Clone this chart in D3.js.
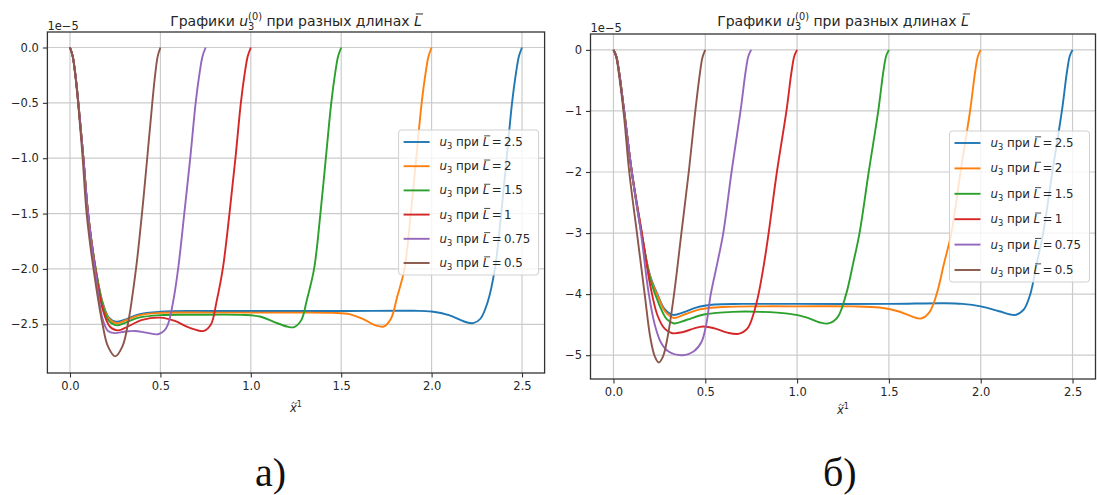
<!DOCTYPE html>
<html><head><meta charset="utf-8">
<script src="https://cdn.jsdelivr.net/npm/d3@7"></script>
<style>body{margin:0;background:#fff}svg{display:block}text{white-space:pre}</style>
</head><body><svg id="c" width="1097" height="495"></svg>
<script>
// ---------- data ----------
const xTicks=[0,0.5,1,1.5,2,2.5];
const xTickLabels=["0.0","0.5","1.0","1.5","2.0","2.5"];
const yTicksA=[0,-0.5,-1,-1.5,-2,-2.5];
const yTickLabelsA=["0.0","−0.5","−1.0","−1.5","−2.0","−2.5"];
const yTicksB=[0,-1,-2,-3,-4,-5];
const yTickLabelsB=["0","−1","−2","−3","−4","−5"];
const lengthLabels=["2.5","2","1.5","1","0.75","0.5"];
const colors=["#1f77b4","#ff7f0e","#2ca02c","#d62728","#9467bd","#8c564b"];

// chart а) values in units of 1e-5
const a25=[[0,0],[0.015,-0.08],[0.03,-0.25],[0.046,-0.5],[0.074,-1.0],[0.1,-1.5],[0.142,-2.0],[0.18,-2.3],[0.215,-2.44],[0.255,-2.477],[0.3,-2.46],[0.38,-2.41],[0.5,-2.387],[0.7,-2.38],[1.0,-2.38],[1.5,-2.38],[1.9,-2.378],[2.0,-2.385],[2.1,-2.42],[2.18,-2.475],[2.23,-2.49],[2.27,-2.45],[2.31,-2.3],[2.35,-2.0],[2.385,-1.5],[2.415,-1.0],[2.445,-0.5],[2.465,-0.25],[2.483,-0.08],[2.5,0]];
const a2=[[0,0],[0.015,-0.08],[0.03,-0.25],[0.046,-0.5],[0.074,-1.0],[0.1,-1.5],[0.142,-2.0],[0.18,-2.31],[0.215,-2.45],[0.258,-2.49],[0.3,-2.47],[0.38,-2.42],[0.5,-2.397],[0.8,-2.395],[1.2,-2.395],[1.45,-2.397],[1.55,-2.41],[1.63,-2.46],[1.69,-2.51],[1.735,-2.52],[1.775,-2.45],[1.81,-2.25],[1.85,-2.0],[1.885,-1.5],[1.915,-1.0],[1.945,-0.5],[1.965,-0.25],[1.983,-0.08],[2.0,0]];
const a15=[[0,0],[0.015,-0.08],[0.03,-0.25],[0.046,-0.5],[0.074,-1.0],[0.1,-1.5],[0.142,-2.0],[0.18,-2.32],[0.215,-2.47],[0.26,-2.51],[0.3,-2.49],[0.38,-2.44],[0.5,-2.417],[0.7,-2.414],[0.95,-2.415],[1.05,-2.43],[1.13,-2.48],[1.2,-2.52],[1.24,-2.525],[1.28,-2.46],[1.31,-2.28],[1.35,-2.0],[1.385,-1.5],[1.415,-1.0],[1.445,-0.5],[1.465,-0.25],[1.483,-0.08],[1.5,0]];
const a1=[[0,0],[0.015,-0.08],[0.03,-0.25],[0.046,-0.5],[0.074,-1.0],[0.1,-1.5],[0.14,-2.0],[0.18,-2.36],[0.22,-2.52],[0.265,-2.555],[0.32,-2.52],[0.4,-2.46],[0.5,-2.44],[0.58,-2.47],[0.66,-2.53],[0.74,-2.56],[0.78,-2.5],[0.81,-2.3],[0.845,-2.0],[0.882,-1.5],[0.915,-1.0],[0.945,-0.5],[0.965,-0.25],[0.983,-0.08],[1.0,0]];
const a075=[[0,0],[0.015,-0.08],[0.03,-0.25],[0.046,-0.5],[0.074,-1.0],[0.1,-1.5],[0.138,-2.0],[0.18,-2.45],[0.21,-2.56],[0.246,-2.58],[0.3,-2.567],[0.357,-2.56],[0.42,-2.575],[0.487,-2.59],[0.52,-2.56],[0.542,-2.5],[0.57,-2.3],[0.598,-2.0],[0.632,-1.5],[0.665,-1.0],[0.695,-0.5],[0.715,-0.25],[0.733,-0.08],[0.75,0]];
const a05=[[0,0],[0.015,-0.08],[0.03,-0.26],[0.046,-0.52],[0.07,-1.0],[0.092,-1.5],[0.13,-2.0],[0.18,-2.5],[0.21,-2.7],[0.25,-2.79],[0.29,-2.7],[0.32,-2.5],[0.365,-2.0],[0.398,-1.5],[0.427,-1.0],[0.454,-0.52],[0.47,-0.26],[0.485,-0.08],[0.5,0]];

// chart б) values in units of 1e-5
const b25=[[0,0],[0.015,-0.1],[0.03,-0.35],[0.058,-1.0],[0.1,-2.0],[0.152,-3.0],[0.2,-3.7],[0.242,-4.02],[0.28,-4.25],[0.325,-4.34],[0.38,-4.3],[0.45,-4.22],[0.55,-4.17],[0.7,-4.16],[1.0,-4.16],[1.5,-4.16],[1.8,-4.15],[1.9,-4.16],[2.0,-4.2],[2.1,-4.28],[2.19,-4.34],[2.235,-4.25],[2.27,-4.0],[2.305,-3.5],[2.34,-3.0],[2.39,-2.0],[2.442,-1.0],[2.47,-0.35],[2.485,-0.1],[2.5,0]];
const b2=[[0,0],[0.015,-0.1],[0.03,-0.35],[0.058,-1.0],[0.1,-2.0],[0.153,-3.0],[0.2,-3.72],[0.245,-4.06],[0.285,-4.3],[0.33,-4.39],[0.39,-4.33],[0.47,-4.25],[0.6,-4.21],[0.8,-4.2],[1.0,-4.2],[1.3,-4.2],[1.45,-4.22],[1.55,-4.28],[1.62,-4.36],[1.675,-4.4],[1.72,-4.3],[1.76,-4.0],[1.8,-3.5],[1.84,-3.0],[1.89,-2.0],[1.942,-1.0],[1.97,-0.35],[1.985,-0.1],[2.0,0]];
const b15=[[0,0],[0.015,-0.1],[0.03,-0.35],[0.058,-1.0],[0.1,-2.0],[0.154,-3.0],[0.2,-3.75],[0.25,-4.18],[0.29,-4.41],[0.33,-4.48],[0.4,-4.42],[0.5,-4.33],[0.65,-4.29],[0.8,-4.29],[0.95,-4.32],[1.05,-4.38],[1.12,-4.46],[1.17,-4.48],[1.22,-4.38],[1.267,-4.0],[1.305,-3.5],[1.34,-3.0],[1.39,-2.0],[1.442,-1.0],[1.47,-0.35],[1.485,-0.1],[1.5,0]];
const b1=[[0,0],[0.015,-0.1],[0.03,-0.35],[0.058,-1.0],[0.1,-2.0],[0.155,-3.0],[0.2,-3.85],[0.24,-4.35],[0.28,-4.57],[0.32,-4.64],[0.38,-4.62],[0.44,-4.56],[0.49,-4.53],[0.55,-4.56],[0.62,-4.63],[0.68,-4.65],[0.73,-4.56],[0.765,-4.3],[0.79,-4.0],[0.82,-3.5],[0.845,-3.0],[0.89,-2.0],[0.942,-1.0],[0.97,-0.35],[0.985,-0.1],[1.0,0]];
const b075=[[0,0],[0.015,-0.1],[0.03,-0.35],[0.058,-1.0],[0.1,-2.0],[0.15,-3.0],[0.19,-3.95],[0.225,-4.5],[0.26,-4.8],[0.3,-4.94],[0.375,-5.0],[0.44,-4.93],[0.48,-4.78],[0.505,-4.5],[0.53,-4.0],[0.565,-3.5],[0.598,-3.0],[0.643,-2.0],[0.692,-1.0],[0.72,-0.35],[0.735,-0.1],[0.75,0]];
const b05=[[0,0],[0.015,-0.12],[0.03,-0.4],[0.058,-1.1],[0.086,-2.0],[0.128,-3.0],[0.17,-4.0],[0.2,-4.7],[0.225,-5.02],[0.247,-5.12],[0.27,-5.02],[0.295,-4.7],[0.33,-4.0],[0.37,-3.0],[0.41,-2.0],[0.442,-1.1],[0.47,-0.4],[0.485,-0.12],[0.5,0]];

const seriesA=[a25,a2,a15,a1,a075,a05];
const seriesB=[b25,b2,b15,b1,b075,b05];

// ---------- drawing ----------
const svg=d3.select('#c');
const FONT='DejaVu Sans';
const TXT='#262626';
function measure(str,size,italic){
  const t=svg.append('text').attr('font-size',size).attr('font-family',FONT)
    .attr('font-style',italic?'italic':'normal').text(str);
  const w=t.node().getComputedTextLength(); t.remove(); return w;
}
function rich(g,x,y,parts,anchor,base){
  let cur=0,ps=0,pe=0; const items=[];
  parts.forEach(p=>{
    if(typeof p==='string') p={t:p};
    const size=base*(p.scale||1);
    const w=measure(p.t,size,p.it);
    const st=p.back?ps:cur;
    items.push(Object.assign({},p,{size,w,x0:st}));
    if(p.back){cur=Math.max(pe,st+w);} else {cur=st+w;ps=st;pe=st+w;}
  });
  const off=anchor==='middle'?-cur/2:anchor==='end'?-cur:0;
  items.forEach(it=>{
    const xx=x+off+it.x0, yy=y+(it.dy||0)*base;
    g.append('text').attr('x',xx).attr('y',yy).attr('font-size',it.size)
      .attr('font-family',FONT).attr('font-style',it.it?'italic':'normal')
      .attr('fill',TXT).text(it.t);
    if(it.bar){
      g.append('line').attr('x1',xx+it.size*0.12).attr('x2',xx+it.w+it.size*0.08)
        .attr('y1',yy-it.size*0.86).attr('y2',yy-it.size*0.86)
        .attr('stroke',TXT).attr('stroke-width',Math.max(0.8,it.size*0.07));
    }
    if(it.tilde){
      const cx=xx+it.w/2+it.size*0.1, ty=yy-it.size*0.78;
      g.append('path').attr('d',`M${cx-2.6},${ty+0.7} C${cx-1.6},${ty-1.1} ${cx-0.8},${ty-1.1} ${cx},${ty} S${cx+1.6},${ty+1.1} ${cx+2.6},${ty-0.7}`)
        .attr('fill','none').attr('stroke',TXT).attr('stroke-width',0.8);
    }
  });
  return cur;
}

function chart(cfg){
  const {x0,x1,y0,y1,ydom,yTicks,yLabels,series,offY,xlabY,label,labX}=cfg;
  const g=svg.append('g');
  const x=d3.scaleLinear().domain([-0.125,2.625]).range([x0,x1]);
  const y=d3.scaleLinear().domain(ydom).range([y1,y0]);
  // grid
  g.append('g').selectAll('line').data(xTicks).join('line')
    .attr('x1',d=>x(d)).attr('x2',d=>x(d)).attr('y1',y0).attr('y2',y1)
    .attr('stroke','#cbcbcb').attr('stroke-width',1.2);
  g.append('g').selectAll('line').data(yTicks).join('line')
    .attr('y1',d=>y(d)).attr('y2',d=>y(d)).attr('x1',x0).attr('x2',x1)
    .attr('stroke','#cbcbcb').attr('stroke-width',1.2);
  // axes
  const xa=g.append('g').attr('transform',`translate(0,${y1})`)
    .call(d3.axisBottom(x).tickValues(xTicks).tickFormat((d,i)=>xTickLabels[i]).tickSize(4.5).tickPadding(4));
  const ya=g.append('g').attr('transform',`translate(${x0},0)`)
    .call(d3.axisLeft(y).tickValues(yTicks).tickFormat((d,i)=>yLabels[i]).tickSize(4.5).tickPadding(4));
  [xa,ya].forEach(a=>{
    a.select('.domain').remove();
    a.selectAll('line').attr('stroke','#333').attr('stroke-width',1.1);
    a.selectAll('text').attr('font-family',FONT).attr('font-size',11.5).attr('fill',TXT);
  });
  // lines
  const line=d3.line().x(d=>x(d[0])).y(d=>y(d[1])).curve(d3.curveCatmullRom.alpha(0.5));
  g.append('g').selectAll('path').data(series).join('path')
    .attr('d',line).attr('fill','none').attr('stroke',(d,i)=>colors[i])
    .attr('stroke-width',1.9).attr('stroke-linejoin','round');
  // frame
  g.append('rect').attr('x',x0).attr('y',y0).attr('width',x1-x0).attr('height',y1-y0)
    .attr('fill','none').attr('stroke','#333').attr('stroke-width',1.3);
  // offset text
  g.append('text').attr('x',x0).attr('y',offY).attr('font-family',FONT).attr('font-size',11.5)
    .attr('fill',TXT).text('1e−5');
  // title
  rich(g,(x0+x1)/2,26,["Графики ",{t:"u",it:true},{t:"3",scale:0.7,dy:0.3},{t:"(0)",scale:0.7,dy:-0.42,back:true},
    " при разных длинах ",{t:"L",it:true,bar:true}],'middle',14);
  // x label
  rich(g,(x0+x1)/2,xlabY,[{t:"x",it:true,tilde:true},{t:"1",scale:0.7,dy:-0.45}],'middle',11.5);
  // legend
  const lw=140, lh=cfg.legH, lx=x1-6-lw, ly=(y0+y1)/2-lh/2;
  const lg=g.append('g');
  lg.append('rect').attr('x',lx).attr('y',ly).attr('width',lw).attr('height',lh).attr('rx',3)
    .attr('fill','white').attr('fill-opacity',0.8).attr('stroke','#d0d0d0').attr('stroke-width',1);
  const step=(lh-24)/5;
  lengthLabels.forEach((L,i)=>{
    const cy=ly+12+i*step;
    lg.append('line').attr('x1',lx+5).attr('x2',lx+31).attr('y1',cy).attr('y2',cy)
      .attr('stroke',colors[i]).attr('stroke-width',1.9);
    rich(lg,lx+41,cy+4,[{t:"u",it:true},{t:"3",scale:0.7,dy:0.26}," при ",{t:"L",it:true,bar:true},"\u2009=\u2009"+L],'start',11.8);
  });
  // panel label
  svg.append('text').attr('x',labX).attr('y',486).attr('font-family','Liberation Serif')
    .attr('font-size',40).attr('fill','#111').text(label);
}

chart({x0:47.4,x1:544.6,y0:32,y1:373,ydom:[-2.94,0.14],yTicks:yTicksA,yLabels:yTickLabelsA,
  series:seriesA,offY:30,xlabY:412,legH:145,label:"а)",labX:255});
chart({x0:590.5,x1:1095.5,y0:34,y1:379,ydom:[-5.39,0.26],yTicks:yTicksB,yLabels:yTickLabelsB,
  series:seriesB,offY:31.5,xlabY:414,legH:151,label:"б)",labX:823});
</script></body></html>
